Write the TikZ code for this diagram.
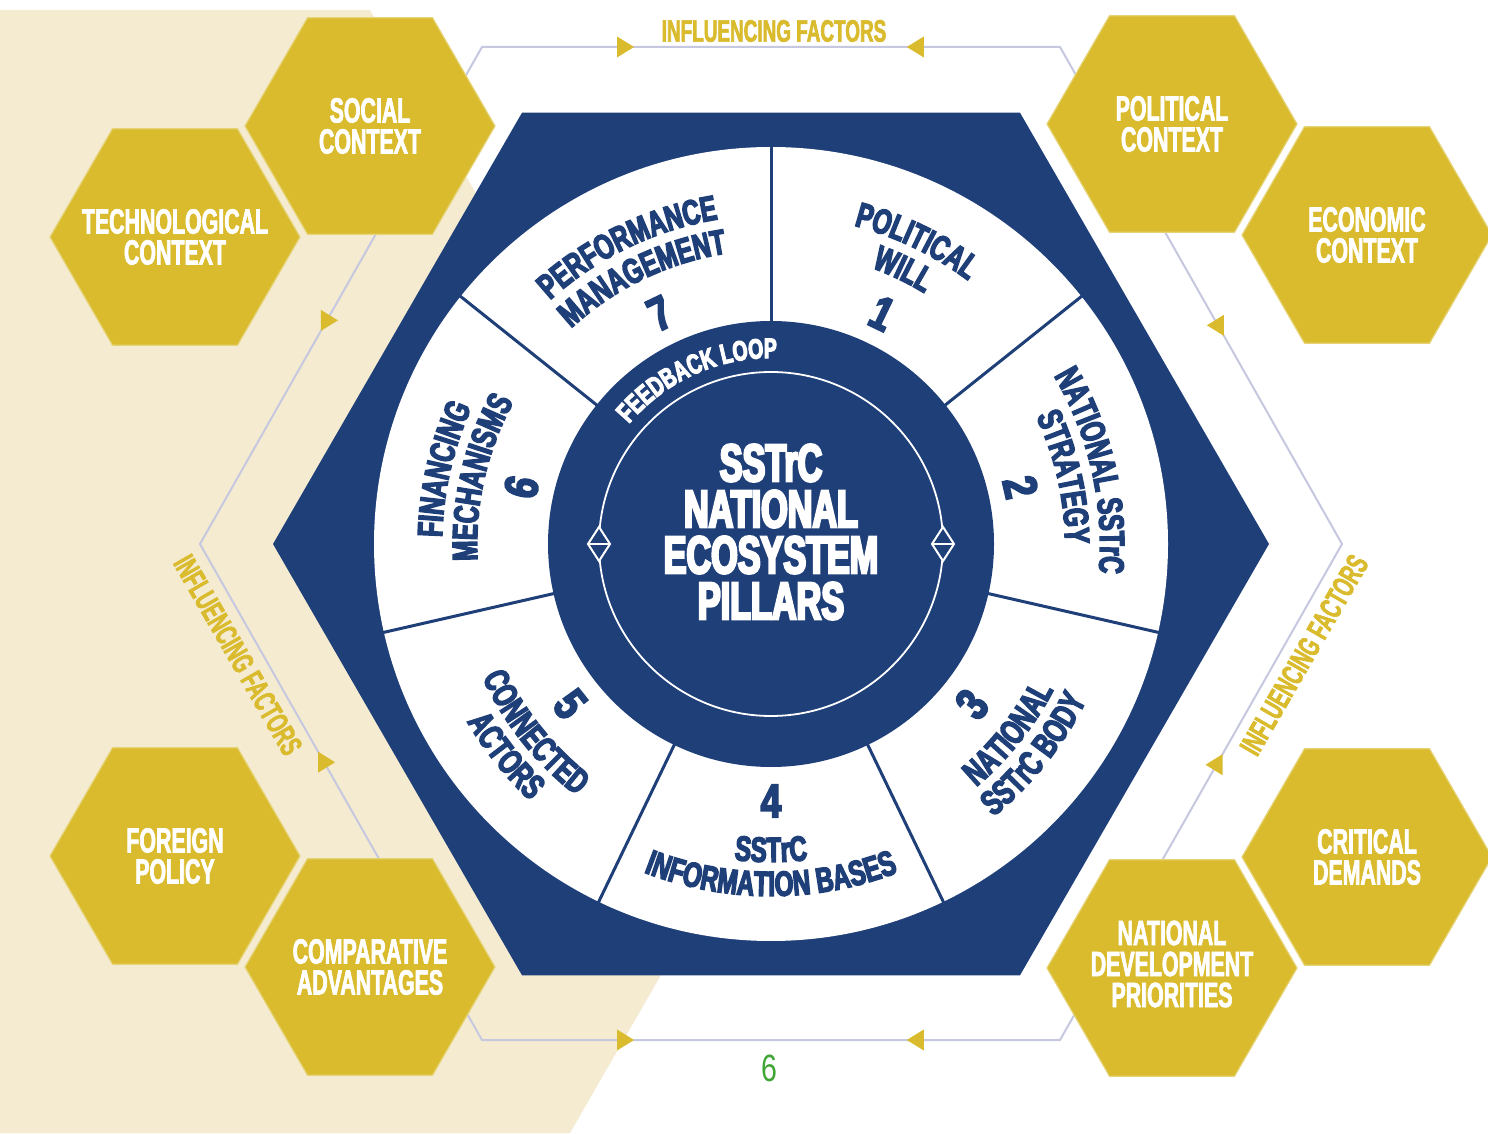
\documentclass[tikz,border=0pt]{standalone}
\usepackage{fontspec}
\usetikzlibrary{decorations.text}
\setmainfont{Liberation Sans}
% condensed faces (horizontally compressed Liberation Sans)
\newfontfamily\hexfont{Liberation Sans}[FakeStretch=0.61,FakeBold=2]
\newfontfamily\secfontfam{Liberation Sans}[FakeStretch=0.69,FakeBold=4]
\newfontfamily\titlefontfam{Liberation Sans}[FakeStretch=0.645,FakeBold=4.5]
\newfontfamily\digitfontfam{Liberation Sans}[FakeStretch=0.78,FakeBold=4]
\newfontfamily\plainfontfam{Liberation Sans}[FakeStretch=0.75]

\definecolor{navy}{HTML}{1F3F79}
\definecolor{gold}{HTML}{D9BB2D}
\definecolor{sand}{HTML}{F4EBD1}
\definecolor{lilac}{HTML}{C6C8E0}
\definecolor{leaf}{HTML}{3FA535}

\newcommand\sectxt{\secfontfam\bfseries\fontsize{35}{35}\selectfont\color{navy}}
\newcommand\fbtxt{\secfontfam\bfseries\fontsize{28}{28}\selectfont\color{white}}

% pillar label along an arc, letters facing outward (clockwise)
\newcommand\labelcw[3]{\path[decorate,decoration={text along path,text align=center,text={|\sectxt|#3}}]
  (#1+45:#2) arc[start angle=#1+45,end angle=#1-45,radius=#2];}
% pillar label along an arc, letters facing the centre (counter-clockwise)
\newcommand\labelccw[3]{\path[decorate,decoration={text along path,text align=center,text={|\sectxt|#3}}]
  (#1-45:#2) arc[start angle=#1-45,end angle=#1+45,radius=#2];}

% gold context hexagon with its caption
\newcommand\goldhex[5][0]{%
  \filldraw[fill=gold,draw=gold!65!white,line width=1.2]
    (#3+125,#4) -- (#3+62.5,#4+108.25) -- (#3-62.5,#4+108.25) --
    (#3-125,#4) -- (#3-62.5,#4-108.25) -- (#3+62.5,#4-108.25) -- cycle;
  \node[hextext] (#2) at (#3,#4+#1) {#5};}

% gold arrow head on the influence loop
\newcommand\loopmark[2]{\fill[gold,shift={(#1)},rotate=#2] (11,0) -- (-6,10.5) -- (-6,-10.5) -- cycle;}

% double marker on the feedback circle
\newcommand\fbmark[1]{%
  \filldraw[fill=navy,draw=white,line width=2,shift={(#1)}] (0,17) -- (11,0) -- (0,-17) -- (-11,0) -- cycle;
  \draw[white,line width=2,shift={(#1)}] (-11,0) -- (11,0);}

\tikzset{
  hextext/.style={text=white,align=center,inner sep=0pt,
    font=\hexfont\bfseries\fontsize{35}{31}\selectfont},
  inftext/.style={text=gold,inner sep=0pt,
    font=\hexfont\bfseries\fontsize{31}{31}\selectfont},
  pillarnum/.style={text=navy,inner sep=0pt,
    font=\digitfontfam\bfseries\fontsize{47}{47}\selectfont},
  coretext/.style={text=white,align=center,inner sep=0pt,
    font=\titlefontfam\bfseries\fontsize{53}{46}\selectfont},
}

\begin{document}
\begin{tikzpicture}[x=1pt,y=1pt]
\useasboundingbox (0,0) rectangle (1488,1133);
\fill[white] (0,0) rectangle (1488,1133);

% sand backdrop on the left
\fill[sand] (0,0) -- (0,1123) -- (370,1123) -- (794,389) -- (570,0) -- cycle;

% influence loop
\coordinate (f1) at (482,1086);
\coordinate (f2) at (1060,1086);
\coordinate (f3) at (1342,589);
\coordinate (f4) at (1060,93);
\coordinate (f5) at (482,93);
\coordinate (f6) at (200,589);
\draw[lilac,line width=2] (f1) -- (f2) -- (f3) -- (f4) -- (f5) -- (f6) -- cycle;
\path (f1) -- (f2) coordinate[pos=0.244] (t1) coordinate[pos=0.754] (t2);
\path (f5) -- (f4) coordinate[pos=0.244] (b1) coordinate[pos=0.754] (b2);
\path (f1) -- (f6) coordinate[pos=0.55] (l1);
\path (f6) -- (f5) coordinate[pos=0.44] (l2);
\path (f2) -- (f3) coordinate[pos=0.56] (r1);
\path (f3) -- (f4) coordinate[pos=0.445] (r2);
\loopmark{t1}{0}   \loopmark{t2}{180}
\loopmark{b1}{0}   \loopmark{b2}{180}
\loopmark{l1}{0}   \loopmark{l2}{0}
\loopmark{r1}{180} \loopmark{r2}{180}

\node[inftext] (inftop) at (774,1102) {INFLUENCING FACTORS};
\node[inftext,rotate=-60] (infleft) at (238,478) {INFLUENCING FACTORS};
\node[inftext,rotate=60] (infright) at (1304,478) {INFLUENCING FACTORS};

% context hexagons
\goldhex{social}{370}{1007}{SOCIAL\\CONTEXT}
\goldhex{techno}{175}{896}{TECHNOLOGICAL\\CONTEXT}
\goldhex{polit}{1172}{1009}{POLITICAL\\CONTEXT}
\goldhex{econ}{1367}{898}{ECONOMIC\\CONTEXT}
\goldhex{foreign}{175}{277}{FOREIGN\\POLICY}
\goldhex{compar}{370}{166}{COMPARATIVE\\ADVANTAGES}
\goldhex{critical}{1367}{276}{CRITICAL\\DEMANDS}
\goldhex[4]{natdev}{1172}{165}{NATIONAL\\DEVELOPMENT\\PRIORITIES}

% the ecosystem wheel
\begin{scope}[shift={(771,589)}]
  \fill[navy] (0:498) -- (60:498) -- (120:498) -- (180:498) -- (240:498) -- (300:498) -- cycle;
  \fill[white] (0,0) circle[radius=397];
  \fill[navy] (0,0) circle[radius=223];
  \foreach \a in {90,38.571,-12.857,-64.286,-115.714,-167.143,141.429}
    \draw[navy,line width=3] (\a:220) -- (\a:399);
  \draw[white,line width=1.8] (0,0) circle[radius=172];
  \coordinate (fbl) at (180:172);
  \coordinate (fbr) at (0:172);
  \fbmark{fbl}
  \fbmark{fbr}
  \path[decorate,decoration={text along path,text align=center,text={|\fbtxt|FEEDBACK LOOP}}]
    (160:186) arc[start angle=160,end angle=68,radius=186];
  \node[coretext] (core) at (0,12) {SSTrC\\NATIONAL\\ECOSYSTEM\\PILLARS};

  % pillar 1
  \labelcw{64.286}{329}{POLITICAL}
  \labelcw{64.286}{294}{WILL}
  \node[pillarnum,rotate=-25.714] (p1) at (64.286:256) {1};
  % pillar 2
  \labelcw{12.857}{329}{NATIONAL SSTrC}
  \labelcw{12.857}{294}{STRATEGY}
  \node[pillarnum,rotate=-77.143] (p2) at (12.857:256) {2};
  % pillar 3
  \node[pillarnum,rotate=51.429] (p3) at (-38.571:257) {3};
  \labelccw{-38.571}{318}{NATIONAL}
  \labelccw{-38.571}{352}{SSTrC BODY}
  % pillar 4
  \node[pillarnum] (p4) at (-90:257) {4};
  \labelccw{-90}{318}{SSTrC}
  \labelccw{-90}{352}{INFORMATION BASES}
  % pillar 5
  \node[pillarnum,rotate=-51.429] (p5) at (-141.429:257) {5};
  \labelccw{-141.429}{318}{CONNECTED}
  \labelccw{-141.429}{352}{ACTORS}
  % pillar 6
  \labelcw{167.143}{329}{FINANCING}
  \labelcw{167.143}{294}{MECHANISMS}
  \node[pillarnum,rotate=77.143] (p6) at (167.143:256) {6};
  % pillar 7
  \labelcw{115.714}{329}{PERFORMANCE}
  \labelcw{115.714}{294}{MANAGEMENT}
  \node[pillarnum,rotate=25.714] (p7) at (115.714:256) {7};
\end{scope}

% page number
\node[text=leaf,inner sep=0pt,font=\plainfontfam\fontsize{38}{38}\selectfont] (page) at (769,65) {6};
\end{tikzpicture}
\end{document}
